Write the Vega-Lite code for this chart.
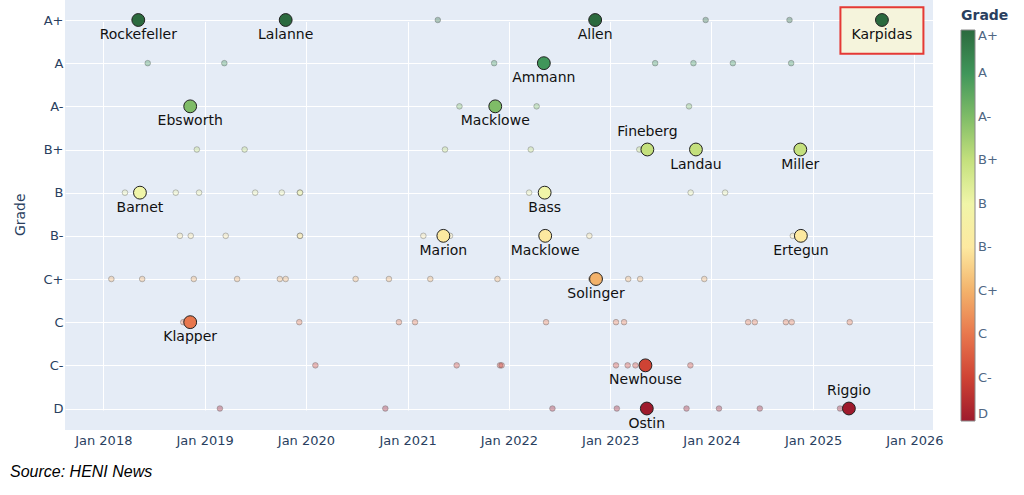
{
  "$schema": "https://vega.github.io/schema/vega-lite/v6.json",
  "width": 868,
  "height": 430,
  "autosize": {"type": "none"},
  "padding": {"left": 65, "top": 0, "right": 91, "bottom": 65},
  "background": "white",
  "title": {
    "text": "Source: HENI News",
    "orient": "bottom",
    "anchor": "start",
    "frame": "group",
    "dx": -55,
    "offset": 17,
    "font": "Liberation Sans",
    "fontStyle": "italic",
    "fontWeight": "normal",
    "fontSize": 16,
    "color": "#000000"
  },
  "config": {
    "view": {"fill": "#e5ecf6", "stroke": null},
    "font": "DejaVu Sans"
  },
  "data": {
    "values": [
      {"name": "Rockefeller", "date": "2018-05-07", "grade": "A+", "score": 9, "highlight": true},
      {"name": "Lalanne", "date": "2019-10-20", "grade": "A+", "score": 9, "highlight": true},
      {"name": "Allen", "date": "2022-11-08", "grade": "A+", "score": 9, "highlight": true},
      {"name": "Karpidas", "date": "2025-09-06", "grade": "A+", "score": 9, "highlight": true},
      {"name": "Ammann", "date": "2022-05-07", "grade": "A", "score": 8, "highlight": true},
      {"name": "Ebsworth", "date": "2018-11-10", "grade": "A-", "score": 7, "highlight": true},
      {"name": "Macklowe", "date": "2021-11-13", "grade": "A-", "score": 7, "highlight": true},
      {"name": "Fineberg", "date": "2023-05-15", "grade": "B+", "score": 6, "highlight": true},
      {"name": "Landau", "date": "2023-11-06", "grade": "B+", "score": 6, "highlight": true},
      {"name": "Miller", "date": "2024-11-16", "grade": "B+", "score": 6, "highlight": true},
      {"name": "Barnet", "date": "2018-05-13", "grade": "B", "score": 5, "highlight": true},
      {"name": "Bass", "date": "2022-05-10", "grade": "B", "score": 5, "highlight": true},
      {"name": "Marion", "date": "2021-05-10", "grade": "B-", "score": 4, "highlight": true},
      {"name": "Macklowe", "date": "2022-05-12", "grade": "B-", "score": 4, "highlight": true},
      {"name": "Ertegun", "date": "2024-11-18", "grade": "B-", "score": 4, "highlight": true},
      {"name": "Solinger", "date": "2022-11-11", "grade": "C+", "score": 3, "highlight": true},
      {"name": "Klapper", "date": "2018-11-10", "grade": "C", "score": 2, "highlight": true},
      {"name": "Newhouse", "date": "2023-05-08", "grade": "C-", "score": 1, "highlight": true},
      {"name": "Ostin", "date": "2023-05-13", "grade": "D", "score": 0, "highlight": true},
      {"name": "Riggio", "date": "2025-05-10", "grade": "D", "score": 0, "highlight": true},

      {"date": "2021-04-20", "grade": "A+", "score": 9, "highlight": false},
      {"date": "2023-12-11", "grade": "A+", "score": 9, "highlight": false},
      {"date": "2024-10-08", "grade": "A+", "score": 9, "highlight": false},

      {"date": "2018-06-10", "grade": "A", "score": 8, "highlight": false},
      {"date": "2019-03-13", "grade": "A", "score": 8, "highlight": false},
      {"date": "2021-11-09", "grade": "A", "score": 8, "highlight": false},
      {"date": "2023-06-12", "grade": "A", "score": 8, "highlight": false},
      {"date": "2023-10-28", "grade": "A", "score": 8, "highlight": false},
      {"date": "2024-03-18", "grade": "A", "score": 8, "highlight": false},
      {"date": "2024-10-14", "grade": "A", "score": 8, "highlight": false},

      {"date": "2021-07-07", "grade": "A-", "score": 7, "highlight": false},
      {"date": "2022-04-11", "grade": "A-", "score": 7, "highlight": false},
      {"date": "2023-10-12", "grade": "A-", "score": 7, "highlight": false},

      {"date": "2018-12-04", "grade": "B+", "score": 6, "highlight": false},
      {"date": "2019-05-25", "grade": "B+", "score": 6, "highlight": false},
      {"date": "2021-05-16", "grade": "B+", "score": 6, "highlight": false},
      {"date": "2022-03-21", "grade": "B+", "score": 6, "highlight": false},
      {"date": "2023-04-16", "grade": "B+", "score": 6, "highlight": false},

      {"date": "2018-03-20", "grade": "B", "score": 5, "highlight": false},
      {"date": "2018-09-19", "grade": "B", "score": 5, "highlight": false},
      {"date": "2018-12-12", "grade": "B", "score": 5, "highlight": false},
      {"date": "2019-07-02", "grade": "B", "score": 5, "highlight": false},
      {"date": "2019-10-06", "grade": "B", "score": 5, "highlight": false},
      {"date": "2019-12-10", "grade": "B", "score": 5, "highlight": false},
      {"date": "2019-12-11", "grade": "B", "score": 5, "highlight": false},
      {"date": "2022-03-15", "grade": "B", "score": 5, "highlight": false},
      {"date": "2023-10-18", "grade": "B", "score": 5, "highlight": false},
      {"date": "2024-02-19", "grade": "B", "score": 5, "highlight": false},

      {"date": "2018-10-04", "grade": "B-", "score": 4, "highlight": false},
      {"date": "2018-11-12", "grade": "B-", "score": 4, "highlight": false},
      {"date": "2019-03-18", "grade": "B-", "score": 4, "highlight": false},
      {"date": "2019-12-10", "grade": "B-", "score": 4, "highlight": false},
      {"date": "2019-12-11", "grade": "B-", "score": 4, "highlight": false},
      {"date": "2021-02-27", "grade": "B-", "score": 4, "highlight": false},
      {"date": "2021-06-03", "grade": "B-", "score": 4, "highlight": false},
      {"date": "2022-10-18", "grade": "B-", "score": 4, "highlight": false},
      {"date": "2024-10-20", "grade": "B-", "score": 4, "highlight": false},

      {"date": "2018-01-30", "grade": "C+", "score": 3, "highlight": false},
      {"date": "2018-05-21", "grade": "C+", "score": 3, "highlight": false},
      {"date": "2018-11-23", "grade": "C+", "score": 3, "highlight": false},
      {"date": "2019-04-28", "grade": "C+", "score": 3, "highlight": false},
      {"date": "2019-09-29", "grade": "C+", "score": 3, "highlight": false},
      {"date": "2019-10-20", "grade": "C+", "score": 3, "highlight": false},
      {"date": "2020-06-28", "grade": "C+", "score": 3, "highlight": false},
      {"date": "2020-10-26", "grade": "C+", "score": 3, "highlight": false},
      {"date": "2021-03-24", "grade": "C+", "score": 3, "highlight": false},
      {"date": "2021-11-21", "grade": "C+", "score": 3, "highlight": false},
      {"date": "2022-10-25", "grade": "C+", "score": 3, "highlight": false},
      {"date": "2023-03-07", "grade": "C+", "score": 3, "highlight": false},
      {"date": "2023-04-19", "grade": "C+", "score": 3, "highlight": false},
      {"date": "2023-12-06", "grade": "C+", "score": 3, "highlight": false},

      {"date": "2018-10-16", "grade": "C", "score": 2, "highlight": false},
      {"date": "2019-12-08", "grade": "C", "score": 2, "highlight": false},
      {"date": "2020-12-01", "grade": "C", "score": 2, "highlight": false},
      {"date": "2021-01-28", "grade": "C", "score": 2, "highlight": false},
      {"date": "2022-05-15", "grade": "C", "score": 2, "highlight": false},
      {"date": "2023-01-22", "grade": "C", "score": 2, "highlight": false},
      {"date": "2023-02-20", "grade": "C", "score": 2, "highlight": false},
      {"date": "2024-05-12", "grade": "C", "score": 2, "highlight": false},
      {"date": "2024-06-05", "grade": "C", "score": 2, "highlight": false},
      {"date": "2024-09-25", "grade": "C", "score": 2, "highlight": false},
      {"date": "2024-10-16", "grade": "C", "score": 2, "highlight": false},
      {"date": "2025-05-13", "grade": "C", "score": 2, "highlight": false},

      {"date": "2020-02-04", "grade": "C-", "score": 1, "highlight": false},
      {"date": "2021-06-27", "grade": "C-", "score": 1, "highlight": false},
      {"date": "2021-11-30", "grade": "C-", "score": 1, "highlight": false},
      {"date": "2021-12-06", "grade": "C-", "score": 1, "highlight": false},
      {"date": "2023-01-22", "grade": "C-", "score": 1, "highlight": false},
      {"date": "2023-03-05", "grade": "C-", "score": 1, "highlight": false},
      {"date": "2023-04-02", "grade": "C-", "score": 1, "highlight": false},
      {"date": "2023-10-17", "grade": "C-", "score": 1, "highlight": false},

      {"date": "2019-02-25", "grade": "D", "score": 0, "highlight": false},
      {"date": "2020-10-13", "grade": "D", "score": 0, "highlight": false},
      {"date": "2022-06-07", "grade": "D", "score": 0, "highlight": false},
      {"date": "2023-01-25", "grade": "D", "score": 0, "highlight": false},
      {"date": "2023-10-03", "grade": "D", "score": 0, "highlight": false},
      {"date": "2024-01-28", "grade": "D", "score": 0, "highlight": false},
      {"date": "2024-06-23", "grade": "D", "score": 0, "highlight": false},
      {"date": "2025-04-08", "grade": "D", "score": 0, "highlight": false},
      {"date": "2025-05-17", "grade": "D", "score": 0, "highlight": false}
    ]
  },
  "encoding": {
    "x": {
      "field": "date",
      "type": "temporal",
      "scale": {"domain": ["2017-08-16", "2026-03-09"]},
      "axis": {
        "title": null,
        "format": "%b %Y",
        "tickCount": {"interval": "year", "step": 1},
        "ticks": false,
        "domain": false,
        "grid": true,
        "gridColor": "#ffffff",
        "gridWidth": 1,
        "labelFont": "DejaVu Sans",
        "labelFontSize": 13,
        "labelColor": "#2a3f5f",
        "labelPadding": 4
      }
    },
    "y": {
      "field": "grade",
      "type": "ordinal",
      "scale": {
        "type": "point",
        "domain": ["A+", "A", "A-", "B+", "B", "B-", "C+", "C", "C-", "D"],
        "range": [20, 408.5],
        "padding": 0
      },
      "axis": {
        "title": "Grade",
        "titleFont": "DejaVu Sans",
        "titleFontSize": 14,
        "titleFontWeight": "normal",
        "titleColor": "#2a3f5f",
        "titlePadding": 16,
        "ticks": false,
        "domain": false,
        "grid": true,
        "gridColor": "#ffffff",
        "gridWidth": 1,
        "labelFont": "DejaVu Sans",
        "labelFontSize": 13,
        "labelColor": "#2a3f5f",
        "labelPadding": 2
      }
    }
  },
  "layer": [
    {
      "transform": [{"filter": "datum.name === 'Karpidas'"}],
      "mark": {
        "type": "point",
        "shape": "M-1,-0.307L1,-0.307L1,0.813L-1,0.813Z",
        "size": 6889,
        "filled": true,
        "fill": "#f5f4dc",
        "fillOpacity": 1,
        "stroke": "#e53935",
        "strokeWidth": 2,
        "opacity": 1
      }
    },
    {
      "transform": [{"filter": "!datum.highlight"}],
      "mark": {
        "type": "point",
        "shape": "circle",
        "filled": true,
        "size": 32,
        "fillOpacity": 0.35,
        "strokeOpacity": 0.35,
        "stroke": "#555555",
        "strokeWidth": 1
      },
      "encoding": {
        "color": {
          "field": "score",
          "type": "quantitative",
          "scale": {
            "domain": [0, 1, 2, 3, 4, 5, 6, 7, 8, 9],
            "range": ["#9e1a2c", "#cf4334", "#e8774d", "#f3b26b", "#fde9a0", "#f0f5a8", "#c4e07d", "#7fbc67", "#40965a", "#2b6a3e"],
            "interpolate": "rgb"
          },
          "legend": {
            "type": "gradient",
            "title": "Grade",
            "orient": "none",
            "legendX": 896,
            "legendY": 9,
            "direction": "vertical",
            "gradientLength": 391,
            "gradientThickness": 14,
            "gradientStrokeColor": "#888888",
            "gradientStrokeWidth": 1,
            "gradientOpacity": 1,
            "values": [0, 1, 2, 3, 4, 5, 6, 7, 8, 9],
            "labelExpr": "['D','C-','C','C+','B-','B','B+','A-','A','A+'][datum.value]",
            "labelFont": "DejaVu Sans",
            "labelFontSize": 13,
            "labelColor": "#506784",
            "labelOffset": 3,
            "labelOverlap": false,
            "titleFont": "DejaVu Sans",
            "titleFontSize": 14,
            "titleFontWeight": "bold",
            "titleColor": "#2a3f5f",
            "titlePadding": 7,
            "titleAnchor": "start",
            "padding": 0
          }
        }
      }
    },
    {
      "transform": [{"filter": "datum.highlight"}],
      "mark": {
        "type": "point",
        "shape": "circle",
        "filled": true,
        "size": 165,
        "opacity": 1,
        "stroke": "#222222",
        "strokeWidth": 1
      },
      "encoding": {
        "color": {"field": "score", "type": "quantitative"}
      }
    },
    {
      "transform": [{"filter": "datum.highlight && datum.name !== 'Fineberg' && datum.name !== 'Riggio'"}],
      "mark": {
        "type": "text",
        "font": "DejaVu Sans",
        "fontSize": 14,
        "color": "#111111",
        "baseline": "middle",
        "align": "center",
        "dy": 15
      },
      "encoding": {"text": {"field": "name"}}
    },
    {
      "transform": [{"filter": "datum.name === 'Fineberg' || datum.name === 'Riggio'"}],
      "mark": {
        "type": "text",
        "font": "DejaVu Sans",
        "fontSize": 14,
        "color": "#111111",
        "baseline": "middle",
        "align": "center",
        "dy": -18
      },
      "encoding": {"text": {"field": "name"}}
    }
  ]
}
